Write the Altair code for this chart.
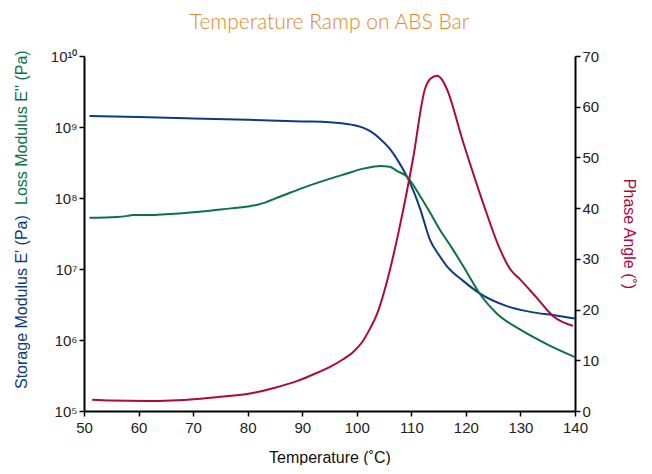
import altair as alt
import pandas as pd

# Storage modulus E' (Pa)
storage_T = [51, 60, 70, 80, 90, 95, 99, 101, 102.6, 104.3, 106, 107.4, 109.2, 110.5, 111.6,
             113.4, 115, 116.5, 119.5, 122.6, 127.5, 132.3, 136, 140]
storage_E = [1.43e9, 1.38e9, 1.32e9, 1.26e9, 1.20e9, 1.17e9, 1.08e9, 9.9e8, 8.6e8, 6.8e8, 5.0e8,
             3.5e8, 2.0e8, 1.2e8, 7.1e7, 2.6e7, 1.6e7, 1.1e7, 6.8e6, 4.5e6, 3.0e6, 2.45e6, 2.25e6, 2.0e6]

# Loss modulus E'' (Pa)
loss_T = [51, 56, 58, 59, 62, 65, 70, 75, 80, 82, 86, 90, 95, 98, 101, 103, 104.3, 106, 107.4,
          109.2, 111.6, 113.4, 115.2, 117.4, 119.5, 122.9, 125.7, 129.9, 134.9, 140]
loss_E = [5.25e7, 5.4e7, 5.6e7, 5.75e7, 5.75e7, 5.9e7, 6.3e7, 6.9e7, 7.6e7, 8.1e7, 1.05e8, 1.38e8,
          1.86e8, 2.19e8, 2.57e8, 2.75e8, 2.82e8, 2.75e8, 2.4e8, 2.0e8, 1.07e8, 6.3e7, 3.6e7, 2.0e7,
          1.1e7, 4.1e6, 2.35e6, 1.41e6, 8.7e5, 5.75e5]

# Phase angle (deg)
phase_T = [51.5, 55, 61.5, 70.7, 75, 79.9, 85, 89, 92, 95.1, 97.5, 99.3, 101, 102.4, 103.7, 105.5,
           107.9, 110.3, 112.5, 113.5, 114.7, 115.7, 116.5, 119.5, 123.1, 126.2, 128.1, 129.9, 133,
           136, 139.6]
phase_deg = [2.2, 2.05, 1.97, 2.37, 2.8, 3.35, 4.6, 5.9, 7.2, 8.7, 10.2, 11.6, 13.6, 16.2, 19.1,
             25.4, 36.5, 49.7, 63.5, 65.5, 66.1, 65.2, 63.5, 53.0, 41.2, 32.0, 28.0, 26.0, 22.3,
             18.7, 16.8]

x_ticks = [50, 60, 70, 80, 90, 100, 110, 120, 130, 140]
mod_ticks = [1e5, 1e6, 1e7, 1e8, 1e9, 1e10]
phase_ticks = [0, 10, 20, 30, 40, 50, 60, 70]

BLUE = "#0d3b7c"
GREEN = "#0b7248"
RED = "#b00839"
ORANGE = "#e0882e"
FONT = "Liberation Sans, Arial, sans-serif"

df_s = pd.DataFrame({"T": storage_T, "E": storage_E})
df_l = pd.DataFrame({"T": loss_T, "E": loss_E})
df_p = pd.DataFrame({"T": phase_T, "P": phase_deg})

x_enc = alt.X("T:Q", scale=alt.Scale(domain=[50, 140], nice=False),
              axis=alt.Axis(values=x_ticks, title="Temperature (˚C)", titleFontSize=16,
                            titleFontWeight="normal", titlePadding=14, labelFontSize=15,
                            labelPadding=4, labelFlush=False))

y_mod = alt.Y("E:Q", scale=alt.Scale(type="log", domain=[1e5, 1e10], nice=False),
              axis=alt.Axis(values=mod_ticks, title=None, labelFontSize=15,
                            labelExpr="'10' + ['⁵','⁶','⁷','⁸','⁹','¹⁰'][round(log(datum.value)/LN10)-5]"))

storage = alt.Chart(df_s).mark_line(color=BLUE, strokeWidth=2, interpolate="monotone").encode(
    x=x_enc, y=y_mod)
loss = alt.Chart(df_l).mark_line(color=GREEN, strokeWidth=2, interpolate="monotone").encode(
    x=x_enc, y=y_mod)

txt_s = alt.Chart(pd.DataFrame({"t": ["Storage Modulus E' (Pa)"]})).mark_text(
    angle=270, align="left", baseline="middle", fontSize=16, color=BLUE, font=FONT).encode(
    text="t:N", x=alt.value(-62), y=alt.value(333))
txt_l = alt.Chart(pd.DataFrame({"t": ["Loss Modulus E'' (Pa)"]})).mark_text(
    angle=270, align="left", baseline="middle", fontSize=16, color=GREEN, font=FONT).encode(
    text="t:N", x=alt.value(-62), y=alt.value(149))

left = alt.layer(storage, loss, txt_s, txt_l)

phase = alt.Chart(df_p).mark_line(color=RED, strokeWidth=2, interpolate="monotone").encode(
    x=x_enc,
    y=alt.Y("P:Q", scale=alt.Scale(domain=[0, 70], nice=False),
            axis=alt.Axis(orient="right", values=phase_ticks, title="Phase Angle (˚)",
                          titleColor=RED, titleFontSize=16, titleFontWeight="normal",
                          titlePadding=22, labelFontSize=15)))

chart = alt.layer(left, phase).resolve_scale(y="independent").properties(
    width=491, height=355,
    title=alt.TitleParams("Temperature Ramp on ABS Bar", color=ORANGE, fontSize=21,
                          font="Lato", fontWeight=300, anchor="middle", offset=16),
    autosize=alt.AutoSizeParams(type="none"),
    padding={"left": 76, "top": 48, "right": 68, "bottom": 54},
).configure_view(stroke=None).configure_axis(
    grid=False, domainColor="black", domainWidth=2, tickColor="black", tickWidth=1.5,
    tickSize=5, labelColor="#222", labelFont=FONT, titleFont=FONT, titleColor="#111",
)

chart.save("out.html", embed_options={"renderer": "svg", "actions": False})
